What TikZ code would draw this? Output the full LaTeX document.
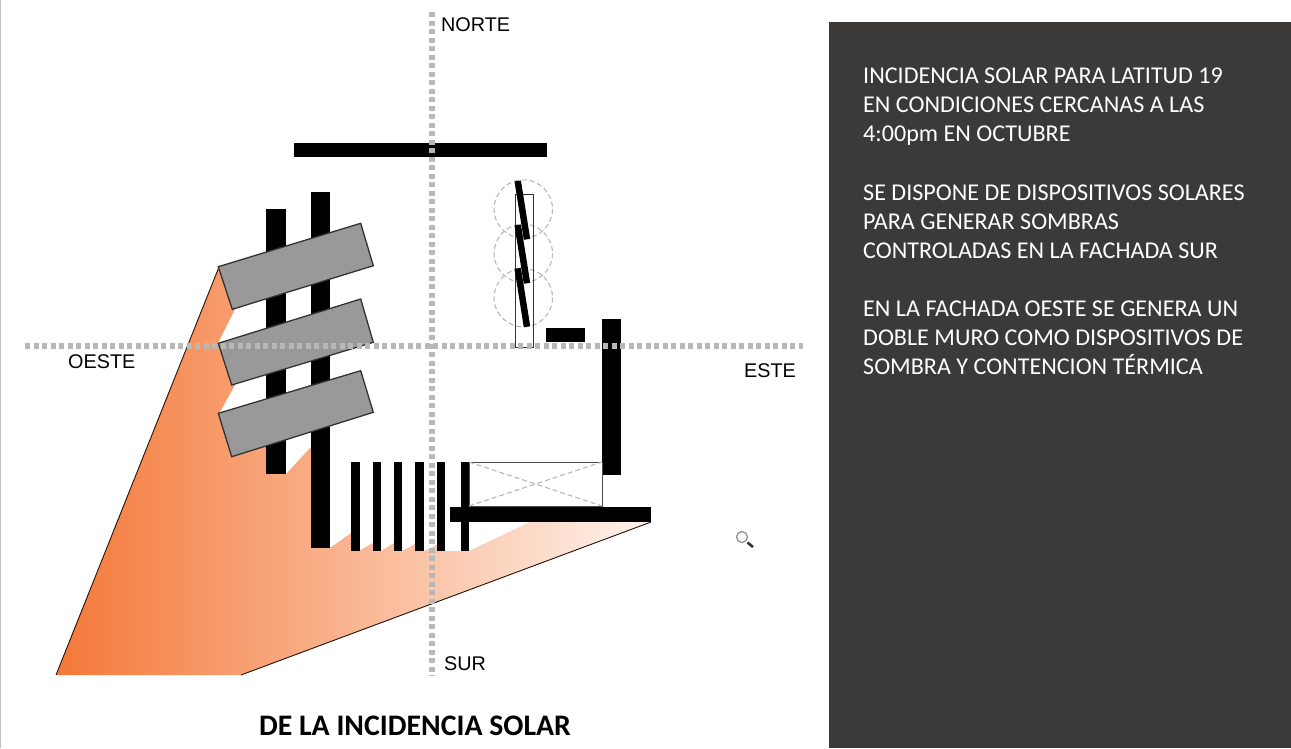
\documentclass[tikz,border=0pt]{standalone}
\usepackage{xcolor}
\usepackage{fontspec}
\setmainfont{Carlito}
\newfontfamily\labelfont{Liberation Sans}
\definecolor{panelgrey}{RGB}{59, 58, 56}
\definecolor{axisgrey}{RGB}{184, 184, 184}
\definecolor{louvergrey}{RGB}{153, 153, 153}
\definecolor{shadeorange}{RGB}{244, 120, 56}
\definecolor{shadelight}{RGB}{254, 243, 236}
\tikzset{
    wall/.style={fill=black, draw=none},
    louver/.style={fill=louvergrey, draw=black!80, line width=1.3pt},
    axisline/.style={draw=axisgrey, line width=5.2pt, dash pattern=on 5pt off 3.5pt},
    blade/.style={draw=black, line width=6.5pt},
    guide/.style={draw=axisgrey, line width=1.1pt, dash pattern=on 5pt off 3pt},
    compass/.style={font=\labelfont\fontsize{19.8}{20}\selectfont, inner sep=0pt, anchor=west}
}
\begin{document}
\begin{tikzpicture}[x=1pt, y=-1pt]
    \useasboundingbox (0,0) rectangle (1291,748);
    \fill[white] (0,0) rectangle (1291,748);
    \draw[black!25, line width=1.5pt] (0.7,0) -- (0.7,748);

    \shade[left color=shadeorange, right color=shadelight]
        (219,267) -- (235,309) -- (218,343) -- (235,385) -- (220,412) -- (270,430)
        -- (276,470) -- (286,474) -- (311,447) -- (311,548) -- (330,548) -- (351,533)
        -- (359,551) -- (373,543) -- (381,551) -- (394,543) -- (402,551) -- (415,544)
        -- (424,551) -- (437,545) -- (446,551) -- (469,551) -- (530,522) -- (651,522)
        -- (241,675) -- (56,675) -- cycle;
    \draw[black!85!shadeorange, line width=0.9pt] (219,267) -- (56,675);
    \draw[black!85!shadeorange, line width=0.9pt] (651,522) -- (241,675);

    \fill[wall] (294,143) rectangle (547,157);
    \fill[wall] (266,209) rectangle (286,474);
    \fill[wall] (311,192) rectangle (330,548);
    \fill[wall] (602,319) rectangle (621,475);
    \fill[wall] (546,328) rectangle (585,342);
    \fill[wall] (450,507) rectangle (651,522);
    \foreach \slatx/\slatw in {351/8.6, 373/7.6, 394/8.3, 415/8.7, 437/8.4, 461/7.7} {
        \fill[wall] (\slatx,462) rectangle ({\slatx+\slatw},551);
    }

    \draw[black!70, line width=0.9pt] (469,462) rectangle (602,506);
    \draw[guide] (469,462) -- (602,506);
    \draw[guide] (469,506) -- (602,462);

    \draw[louver] (218.3,266.7) -- (360.7,223.3) -- (373.3,265.7) -- (232.3,309.3) -- cycle;
    \draw[louver] (218.3,343.3) -- (360.7,299) -- (373.3,342.3) -- (231.7,385) -- cycle;
    \draw[louver] (218.3,413.3) -- (360.7,370.7) -- (373.3,412.3) -- (231.7,456.7) -- cycle;

    \foreach \circy in {209, 253.3, 297.7} {
        \draw[guide] (523.3,\circy) circle (29.2);
    }
    \draw[black!80, line width=0.9pt] (515,194) rectangle (533,347);
    \draw[blade] (517.7,181) -- (527,239.3);
    \draw[blade] (517.7,225) -- (527,283.3);
    \draw[blade] (517.7,268.3) -- (527,326.7);

    \draw[axisline] (432,12) -- (432,676);
    \draw[axisline] (25,346) -- (803,346);

    \node[compass] (norte) at (441,24.5) {NORTE};
    \node[compass] (oeste) at (68,362) {OESTE};
    \node[compass] (este) at (744,371) {ESTE};
    \node[compass] (sur) at (444,663.5) {SUR};

    \node[font=\bfseries\fontsize{29.8}{30}\selectfont, inner sep=0pt] (titulo) at (415,726) {DE LA INCIDENCIA SOLAR};

    \fill[panelgrey] (829,22) rectangle (1291,748);
    \node[anchor=north west, inner sep=0pt, text=white, align=left,
          font=\fontsize{24.1}{29}\selectfont] (nota) at (863,68) {
        INCIDENCIA SOLAR PARA LATITUD 19\\
        EN CONDICIONES CERCANAS A LAS\\
        4:00pm EN OCTUBRE\\[30pt]
        SE DISPONE DE DISPOSITIVOS SOLARES\\
        PARA GENERAR SOMBRAS\\
        CONTROLADAS EN LA FACHADA SUR\\[29pt]
        EN LA FACHADA OESTE SE GENERA UN\\
        DOBLE MURO COMO DISPOSITIVOS DE\\
        SOMBRA Y CONTENCION TÉRMICA
    };

    \draw[black!45, fill=black!3, line width=1.2pt] (742,537) circle (5.5);
    \draw[black!80, line width=2.6pt] (747.5,542.5) -- (753,547);
\end{tikzpicture}
\end{document}
